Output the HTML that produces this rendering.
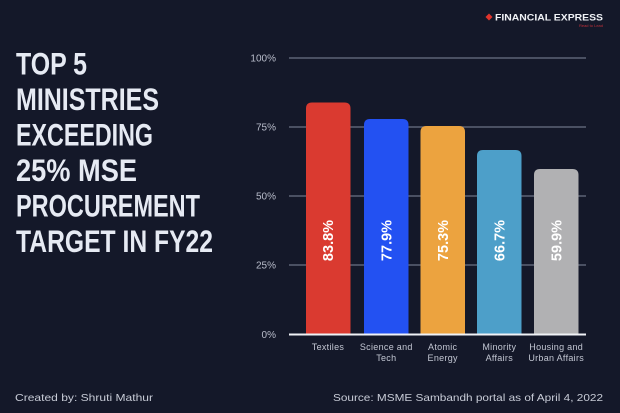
<!DOCTYPE html>
<html>
<head>
<meta charset="utf-8">
<style>
html,body{margin:0;padding:0;background:#141829;}
svg{display:block;}
text{font-family:"Liberation Sans",sans-serif;}
</style>
</head>
<body>
<svg width="620" height="413" viewBox="0 0 620 413" xmlns="http://www.w3.org/2000/svg">
<rect x="0" y="0" width="620" height="413" fill="#141829"/>

<!-- logo -->
<path d="M489 13.5 L492.5 17 L489 20.5 L485.5 17 Z" fill="#e0342c"/>
<text x="495" y="20.5" font-size="9.5" font-weight="bold" fill="#f0f2f6" textLength="108" lengthAdjust="spacingAndGlyphs">FINANCIAL EXPRESS</text>
<text x="603" y="27" font-size="4" fill="#c0303a" text-anchor="end">Read to Lead</text>

<!-- title -->
<g font-weight="bold" fill="#e6eaf3" font-size="31.5">
<text x="16" y="74.5" textLength="71" lengthAdjust="spacingAndGlyphs">TOP 5</text>
<text x="16" y="110" textLength="143" lengthAdjust="spacingAndGlyphs">MINISTRIES</text>
<text x="16" y="145.5" textLength="137" lengthAdjust="spacingAndGlyphs">EXCEEDING</text>
<text x="16" y="181" textLength="121" lengthAdjust="spacingAndGlyphs">25% MSE</text>
<text x="16" y="216.5" textLength="184" lengthAdjust="spacingAndGlyphs">PROCUREMENT</text>
<text x="16" y="252" textLength="197" lengthAdjust="spacingAndGlyphs">TARGET IN FY22</text>
</g>

<!-- gridlines -->
<g stroke="#5d6275" stroke-width="1.5">
<line x1="289" y1="58" x2="586" y2="58"/>
<line x1="289" y1="127" x2="586" y2="127"/>
<line x1="289" y1="196" x2="586" y2="196"/>
<line x1="289" y1="265" x2="586" y2="265"/>
</g>

<!-- y labels -->
<g font-size="10" fill="#b9bdcb" text-anchor="end">
<text x="276" y="61.5">100%</text>
<text x="276" y="130.5">75%</text>
<text x="276" y="199.5">50%</text>
<text x="276" y="268.5">25%</text>
<text x="276" y="338">0%</text>
</g>

<!-- bars -->
<path d="M306 334 V108.5 Q306 102.5 312 102.5 H344.5 Q350.5 102.5 350.5 108.5 V334 Z" fill="#da3a30"/>
<path d="M364 334 V125 Q364 119 370 119 H402.5 Q408.5 119 408.5 125 V334 Z" fill="#2351f2"/>
<path d="M420.5 334 V132 Q420.5 126 426.5 126 H459 Q465 126 465 132 V334 Z" fill="#eca33f"/>
<path d="M477 334 V156 Q477 150 483 150 H515.5 Q521.5 150 521.5 156 V334 Z" fill="#4d9fc9"/>
<path d="M534 334 V175 Q534 169 540 169 H572.5 Q578.5 169 578.5 175 V334 Z" fill="#b1b1b3"/>

<!-- baseline -->
<line x1="289" y1="334.5" x2="586" y2="334.5" stroke="#f0f2f6" stroke-width="2"/>

<!-- value labels -->
<g font-size="14.5" font-weight="bold" fill="#ffffff" text-anchor="middle">
<text transform="translate(333.2,240.5) rotate(-90)">83.8%</text>
<text transform="translate(391.5,240.5) rotate(-90)">77.9%</text>
<text transform="translate(447.9,240.5) rotate(-90)">75.3%</text>
<text transform="translate(504.5,240.5) rotate(-90)">66.7%</text>
<text transform="translate(561.4,240.5) rotate(-90)">59.9%</text>
</g>

<!-- category labels -->
<g font-size="9" fill="#c3c7d3" text-anchor="middle" letter-spacing="0.3">
<text x="328" y="350">Textiles</text>
<text x="386.3" y="350">Science and</text>
<text x="386.3" y="361">Tech</text>
<text x="442.7" y="350">Atomic</text>
<text x="442.7" y="361">Energy</text>
<text x="499.3" y="350">Minority</text>
<text x="499.3" y="361">Affairs</text>
<text x="556.2" y="350">Housing and</text>
<text x="556.2" y="361">Urban Affairs</text>
</g>

<!-- footer -->
<g font-size="10.5" fill="#c8ccd7">
<text x="15" y="401" textLength="138" lengthAdjust="spacingAndGlyphs">Created by: Shruti Mathur</text>
<text x="333" y="401" textLength="270" lengthAdjust="spacingAndGlyphs">Source: MSME Sambandh portal as of April 4, 2022</text>
</g>
</svg>
</body>
</html>
